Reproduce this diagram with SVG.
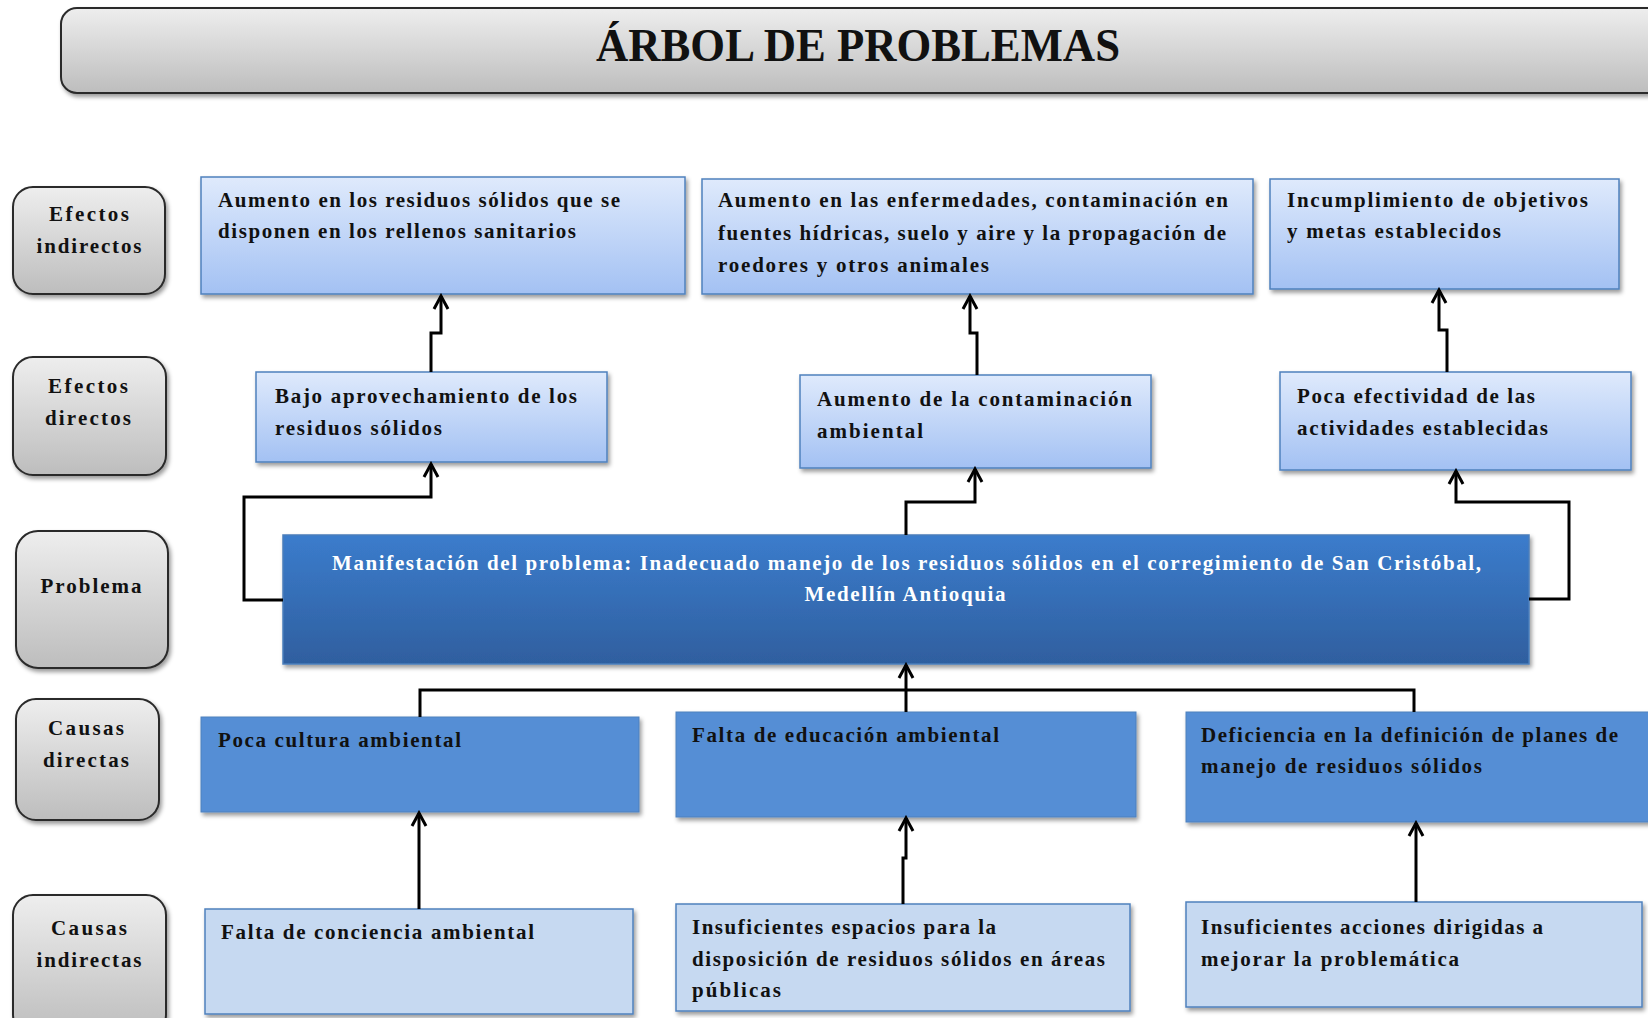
<svg xmlns="http://www.w3.org/2000/svg" width="1648" height="1018" viewBox="0 0 1648 1018">
<defs>
  <linearGradient id="gGray" x1="0" y1="0" x2="0" y2="1">
    <stop offset="0" stop-color="#eeeeee"/>
    <stop offset="1" stop-color="#bdbdbd"/>
  </linearGradient>
  <linearGradient id="gLight" x1="0" y1="0" x2="0" y2="1">
    <stop offset="0" stop-color="#dfeafc"/>
    <stop offset="1" stop-color="#a3c1f3"/>
  </linearGradient>
  <linearGradient id="gDark" x1="0" y1="0" x2="0" y2="1">
    <stop offset="0" stop-color="#3b7ccc"/>
    <stop offset="1" stop-color="#2f5f9f"/>
  </linearGradient>
  <filter id="sh" x="-5%" y="-10%" width="115%" height="130%">
    <feDropShadow dx="2" dy="3" stdDeviation="2" flood-color="#000" flood-opacity="0.4"/>
  </filter>
  <marker id="arr" markerUnits="userSpaceOnUse" viewBox="-15 -10 18 20" refX="0" refY="0" markerWidth="18" markerHeight="20" orient="auto">
    <path d="M -13 -7 L 0 0 L -13 7" fill="none" stroke="#000" stroke-width="3"/>
  </marker>
  <style>
    .lbl { fill: url(#gGray); stroke: #2a2a2a; stroke-width: 2; filter: url(#sh); }
    .lt { fill: url(#gLight); stroke: #4f81bd; stroke-width: 1.5; filter: url(#sh); }
    .dk { fill: url(#gDark); stroke: #4a7ebb; stroke-width: 1.5; filter: url(#sh); }
    .md { fill: #558ed5; stroke: #4f81bd; stroke-width: 1; filter: url(#sh); }
    .pl { fill: #c6d9f1; stroke: #4f81bd; stroke-width: 1.5; filter: url(#sh); }
    text { font-family: "Liberation Serif", "Times New Roman", serif; font-weight: bold; font-size: 21px; fill: #111; }
    .c { text-anchor: middle; }
    .w { fill: #ffffff; }
    .title { font-size: 46px; }
    .con path { fill: none; stroke: #000; stroke-width: 3; }
  </style>
</defs>
<rect width="1648" height="1018" fill="#ffffff"/>

<g id="title">
  <rect x="61" y="8" width="1620" height="85" rx="16" class="lbl"/>
  <text class="title c" x="858" y="61" textLength="524" lengthAdjust="spacingAndGlyphs">ÁRBOL DE PROBLEMAS</text>
</g>

<g id="lbl-efectos-indirectos">
  <rect x="13" y="187" width="152" height="107" rx="20" class="lbl"/>
  <text class="c" x="89" y="221" textLength="80" lengthAdjust="spacing">Efectos</text>
  <text class="c" x="89" y="253" textLength="105" lengthAdjust="spacing">indirectos</text>
</g>
<g id="lbl-efectos-directos">
  <rect x="13" y="357" width="153" height="118" rx="20" class="lbl"/>
  <text class="c" x="88" y="393" textLength="80" lengthAdjust="spacing">Efectos</text>
  <text class="c" x="88" y="425" textLength="86" lengthAdjust="spacing">directos</text>
</g>
<g id="lbl-problema">
  <rect x="16" y="531" width="152" height="137" rx="22" class="lbl"/>
  <text class="c" x="91" y="593" textLength="101" lengthAdjust="spacing">Problema</text>
</g>
<g id="lbl-causas-directas">
  <rect x="16" y="699" width="143" height="121" rx="20" class="lbl"/>
  <text class="c" x="86" y="735" textLength="76" lengthAdjust="spacing">Causas</text>
  <text class="c" x="86" y="767" textLength="86" lengthAdjust="spacing">directas</text>
</g>
<g id="lbl-causas-indirectas">
  <rect x="13" y="895" width="153" height="140" rx="20" class="lbl"/>
  <text class="c" x="89" y="935" textLength="76" lengthAdjust="spacing">Causas</text>
  <text class="c" x="89" y="967" textLength="105" lengthAdjust="spacing">indirectas</text>
</g>

<g id="ei1">
  <rect x="201" y="177" width="484" height="117" class="lt"/>
  <text x="218" y="207" textLength="402" lengthAdjust="spacing">Aumento en los residuos sólidos que se</text>
  <text x="218" y="238" textLength="358" lengthAdjust="spacing">disponen en los rellenos sanitarios</text>
</g>
<g id="ei2">
  <rect x="702" y="179" width="551" height="115" class="lt"/>
  <text x="718" y="207" textLength="510" lengthAdjust="spacing">Aumento en las enfermedades, contaminación en</text>
  <text x="718" y="240" textLength="508" lengthAdjust="spacing">fuentes hídricas, suelo y aire y la propagación de</text>
  <text x="718" y="272" textLength="271" lengthAdjust="spacing">roedores y otros animales</text>
</g>
<g id="ei3">
  <rect x="1270" y="179" width="349" height="110" class="lt"/>
  <text x="1287" y="207" textLength="301" lengthAdjust="spacing">Incumplimiento de objetivos</text>
  <text x="1287" y="238" textLength="214" lengthAdjust="spacing">y metas establecidos</text>
</g>

<g id="ed1">
  <rect x="256" y="372" width="351" height="90" class="lt"/>
  <text x="275" y="403" textLength="302" lengthAdjust="spacing">Bajo aprovechamiento de los</text>
  <text x="275" y="435" textLength="167" lengthAdjust="spacing">residuos sólidos</text>
</g>
<g id="ed2">
  <rect x="800" y="375" width="351" height="93" class="lt"/>
  <text x="817" y="406" textLength="315" lengthAdjust="spacing">Aumento de la contaminación</text>
  <text x="817" y="438" textLength="106" lengthAdjust="spacing">ambiental</text>
</g>
<g id="ed3">
  <rect x="1280" y="372" width="351" height="98" class="lt"/>
  <text x="1297" y="403" textLength="238" lengthAdjust="spacing">Poca efectividad de las</text>
  <text x="1297" y="435" textLength="251" lengthAdjust="spacing">actividades establecidas</text>
</g>

<g id="problema">
  <rect x="283" y="535" width="1246" height="129" class="dk"/>
  <text class="w" x="332" y="570" textLength="1149" lengthAdjust="spacing">Manifestación del problema: Inadecuado manejo de los residuos sólidos en el corregimiento de San Cristóbal,</text>
  <text class="w c" x="905" y="601" textLength="201" lengthAdjust="spacing">Medellín Antioquia</text>
</g>

<g id="cd1">
  <rect x="201" y="717" width="438" height="95" class="md"/>
  <text x="218" y="747" textLength="243" lengthAdjust="spacing">Poca cultura ambiental</text>
</g>
<g id="cd2">
  <rect x="676" y="712" width="460" height="105" class="md"/>
  <text x="692" y="742" textLength="307" lengthAdjust="spacing">Falta de educación ambiental</text>
</g>
<g id="cd3">
  <rect x="1186" y="712" width="470" height="110" class="md"/>
  <text x="1201" y="742" textLength="417" lengthAdjust="spacing">Deficiencia en la definición de planes de</text>
  <text x="1201" y="773" textLength="281" lengthAdjust="spacing">manejo de residuos sólidos</text>
</g>

<g id="ci1">
  <rect x="205" y="909" width="428" height="105" class="pl"/>
  <text x="221" y="939" textLength="313" lengthAdjust="spacing">Falta de conciencia ambiental</text>
</g>
<g id="ci2">
  <rect x="676" y="904" width="454" height="107" class="pl"/>
  <text x="692" y="934" textLength="304" lengthAdjust="spacing">Insuficientes espacios para la</text>
  <text x="692" y="966" textLength="413" lengthAdjust="spacing">disposición de residuos sólidos en áreas</text>
  <text x="692" y="997" textLength="89" lengthAdjust="spacing">públicas</text>
</g>
<g id="ci3">
  <rect x="1186" y="902" width="456" height="105" class="pl"/>
  <text x="1201" y="934" textLength="342" lengthAdjust="spacing">Insuficientes acciones dirigidas a</text>
  <text x="1201" y="966" textLength="258" lengthAdjust="spacing">mejorar la problemática</text>
</g>

<g id="connectors" class="con">
  <path d="M 431 372 V 333 H 441 V 296" marker-end="url(#arr)"/>
  <path d="M 977 375 V 333 H 970 V 296" marker-end="url(#arr)"/>
  <path d="M 1447 372 V 330 H 1439 V 290" marker-end="url(#arr)"/>
  <path d="M 283 600 H 244 V 497 H 431 V 464" marker-end="url(#arr)"/>
  <path d="M 906 535 V 502 H 975 V 469" marker-end="url(#arr)"/>
  <path d="M 1529 599 H 1569 V 502 H 1456 V 471" marker-end="url(#arr)"/>
  <path d="M 420 717 V 690 H 1414 V 712"/>
  <path d="M 906 712 V 665" marker-end="url(#arr)"/>
  <path d="M 419 909 V 813" marker-end="url(#arr)"/>
  <path d="M 903 904 V 858 H 906 V 818" marker-end="url(#arr)"/>
  <path d="M 1416 902 V 823" marker-end="url(#arr)"/>
</g>
</svg>
